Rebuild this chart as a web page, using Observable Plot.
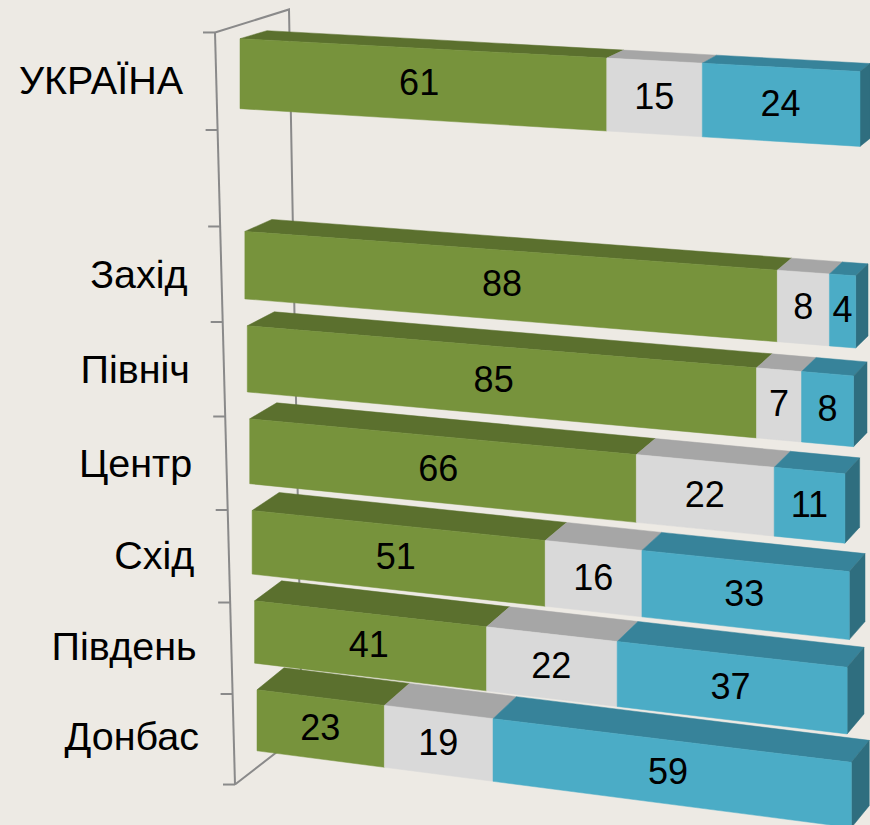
<!DOCTYPE html>
<html>
<head>
<meta charset="utf-8">
<script src="https://cdn.jsdelivr.net/npm/d3@7"></script>
<script src="https://cdn.jsdelivr.net/npm/@observablehq/plot@0.6"></script>
<style>
  html, body { margin: 0; padding: 0; background: #edeae4; }
  #chart { width: 870px; height: 825px; overflow: hidden; }
  #chart svg { display: block; }
</style>
</head>
<body>
<div id="chart"></div>
<script>
// ---------- data ----------
const regions = ["УКРАЇНА", "Захід", "Північ", "Центр", "Схід", "Південь", "Донбас"];
const rowDomain = ["УКРАЇНА", " ", "Захід", "Північ", "Центр", "Схід", "Південь", "Донбас"];
const categories = ["Так", "Важко сказати", "Ні"];
const yesValues = [61, 88, 85, 66, 51, 41, 23];
const unsureValues = [15, 8, 7, 22, 16, 22, 19];
const noValues = [24, 4, 8, 11, 33, 37, 59];

// ---------- styles ----------
const frontColors = ["#77933c", "#d9d9d9", "#4bacc6"];
const topColors = ["#5b702e", "#a6a6a6", "#37839a"];
const sideColors = ["#4b5e26", "#8f8f8f", "#2f6e7f"];
const FONT = "'Liberation Sans', Arial, sans-serif";

const series = [yesValues, unsureValues, noValues];
const table = regions.flatMap((region, i) =>
  categories.map((cat, j) => ({region, cat, value: series[j][i]}))
);

const W = 870, H = 825, ML = 240, MR = 10, MT = 15, MB = 46;
const X0 = ML, X1 = W - MR;
const FORESHORTEN = 0.08;

function bandwidthOf(s) {
  return typeof s.bandwidth === "function" ? s.bandwidth() : s.bandwidth;
}
// perspective geometry of one row; f = 0 for the first row, 1 for the last
function rowGeom(f, center) {
  const xl = 240 + 17 * f, xr = 860 - 15 * f;
  const s = 0.053 + 0.069 * f;
  const h = 70 - 9 * f;
  const mid = center + 33 * f * (1 - f);
  return {f, xl, xr, s, h, mid, top0: mid - h / 2, g: 0.07,
          t: 8 + 14 * f, dxL: 27, dxR: 10 + 8 * f};
}
function project(G, x, v) {
  const u0 = (x - X0) / (X1 - X0);
  const u = u0 / (1 + FORESHORTEN * (1 - u0));
  const X = G.xl + (G.xr - G.xl) * u;
  const Y = G.top0 + G.s * (X - G.xl) + v * G.h * (1 + G.g * u);
  return [X, Y];
}
function backOffset(G, X) {
  const u = (X - G.xl) / (G.xr - G.xl);
  return [G.dxL + (G.dxR - G.dxL) * u, -G.t];
}
function rowInfo(scales) {
  const ys = scales.y;
  const bw = bandwidthOf(ys);
  const c0 = ys(rowDomain[0]) + bw / 2;
  const cN = ys(rowDomain[rowDomain.length - 1]) + bw / 2;
  return {bw, c0, cN, geom: (ystart) => {
    const c = ystart + bw / 2;
    return rowGeom((c - c0) / (cN - c0), c);
  }};
}

function barsRender(index, scales, values, dims, ctx, next) {
  const info = rowInfo(scales);
  const X1v = values.x1, X2v = values.x2, Yv = values.y;
  const rows = [...d3.group(index, i => Yv[i])].sort((a, b) => a[0] - b[0]);
  const g = d3.create("svg:g");
  const poly = (pts, fill) => g.append("polygon")
    .attr("points", pts.map(p => p[0].toFixed(2) + "," + p[1].toFixed(2)).join(" "))
    .attr("fill", fill).attr("stroke", fill).attr("stroke-width", 0.5);
  for (const [ys, idx] of rows) {
    const G = info.geom(ys);
    const ordered = idx.slice().sort((a, b) => Math.min(X1v[a], X2v[a]) - Math.min(X1v[b], X2v[b]));
    const last = ordered[ordered.length - 1];
    for (const i of ordered) {
      const j = categories.indexOf(table[i].cat);
      const xa = Math.min(X1v[i], X2v[i]), xb = Math.max(X1v[i], X2v[i]);
      const A = project(G, xa, 0), B = project(G, xb, 0);
      const oa = backOffset(G, A[0]), ob = backOffset(G, B[0]);
      poly([A, B, [B[0] + ob[0], B[1] + ob[1]], [A[0] + oa[0], A[1] + oa[1]]], topColors[j]);
    }
    {
      const j = categories.indexOf(table[last].cat);
      const xb = Math.max(X1v[last], X2v[last]);
      const B = project(G, xb, 0), C = project(G, xb, 1);
      const o = backOffset(G, B[0]);
      poly([B, [B[0] + o[0], B[1] + o[1]], [C[0] + o[0], C[1] + o[1]], C], sideColors[j]);
    }
    for (const i of ordered) {
      const j = categories.indexOf(table[i].cat);
      const xa = Math.min(X1v[i], X2v[i]), xb = Math.max(X1v[i], X2v[i]);
      poly([project(G, xa, 0), project(G, xb, 0), project(G, xb, 1), project(G, xa, 1)], frontColors[j]);
    }
  }
  return g.node();
}

function valueTextRender(index, scales, values, dims, ctx, next) {
  const info = rowInfo(scales);
  const g = next(index, scales, values, dims, ctx);
  g.removeAttribute("transform");
  const texts = g.querySelectorAll("text");
  index.forEach((i, n) => {
    const G = info.geom(values.y[i]);
    const [X, Y] = project(G, values.x[i], 0.5);
    if (texts[n]) texts[n].setAttribute("transform", `translate(${X.toFixed(2)},${Y.toFixed(2)})`);
  });
  return g;
}

function regionTextRender(index, scales, values, dims, ctx, next) {
  const info = rowInfo(scales);
  const g = next(index, scales, values, dims, ctx);
  g.removeAttribute("transform");
  const texts = g.querySelectorAll("text");
  index.forEach((i, n) => {
    const G = info.geom(values.y[i]);
    const X = 183 + 16 * G.f;
    const Y = G.mid + 8 + 9 * G.f;
    if (texts[n]) texts[n].setAttribute("transform", `translate(${X.toFixed(2)},${Y.toFixed(2)})`);
  });
  return g;
}

// axis frame (left wall edge with ticks at band boundaries, back edges)
function frameMark(index, scales) {
  const ys = scales.y;
  const bw = bandwidthOf(ys);
  const step = ys(rowDomain[1]) - ys(rowDomain[0]);
  const n = rowDomain.length;
  const ticks = d3.range(n + 1).map(i => {
    const b = ys(rowDomain[0]) - (step - bw) / 2 + i * step;
    const q = i / n;
    return b + 5 + 13 * q + 32 * q * (1 - q);
  });
  const T0 = ticks[0], T8 = ticks[n];
  const lx = y => 215 + (y - T0) * 20 / (T8 - T0);
  const g = d3.create("svg:g").attr("stroke", "#8a8a8a").attr("stroke-width", 2).attr("fill", "none");
  const topBack = [lx(T0) + 74, T0 - 23];
  const botBack = [lx(T8) + 67, T8 - 52];
  g.append("path").attr("d", `M${lx(T0)},${T0}L${topBack[0]},${topBack[1]}L${botBack[0]},${botBack[1]}L${lx(T8)},${T8}`);
  g.append("path").attr("d", `M${lx(T0)},${T0}L${lx(T8)},${T8}`);
  for (const t of ticks) g.append("path").attr("d", `M${lx(t) - 12},${t}L${lx(t)},${t}`);
  return g.node();
}

const chart = Plot.plot({
  width: W,
  height: H,
  marginLeft: ML,
  marginRight: MR,
  marginTop: MT,
  marginBottom: MB,
  style: {background: "transparent", fontFamily: FONT, overflow: "visible"},
  x: {domain: [0, 100], axis: null},
  y: {domain: rowDomain, padding: 0.27, round: false, axis: null},
  color: {domain: categories, range: frontColors},
  marks: [
    frameMark,
    Plot.barX(table, Plot.stackX({x: "value", y: "region", fill: "cat", render: barsRender})),
    Plot.text(table, Plot.stackX({
      x: "value", y: "region", text: d => String(d.value),
      fill: "#000", fontSize: 36, fontFamily: FONT, render: valueTextRender
    })),
    Plot.text(regions, {
      y: d => d, text: d => d, frameAnchor: "left", textAnchor: "end",
      fill: "#000", fontSize: 39.5, fontFamily: FONT, render: regionTextRender
    })
  ]
});
document.getElementById("chart").appendChild(chart);
</script>
</body>
</html>
